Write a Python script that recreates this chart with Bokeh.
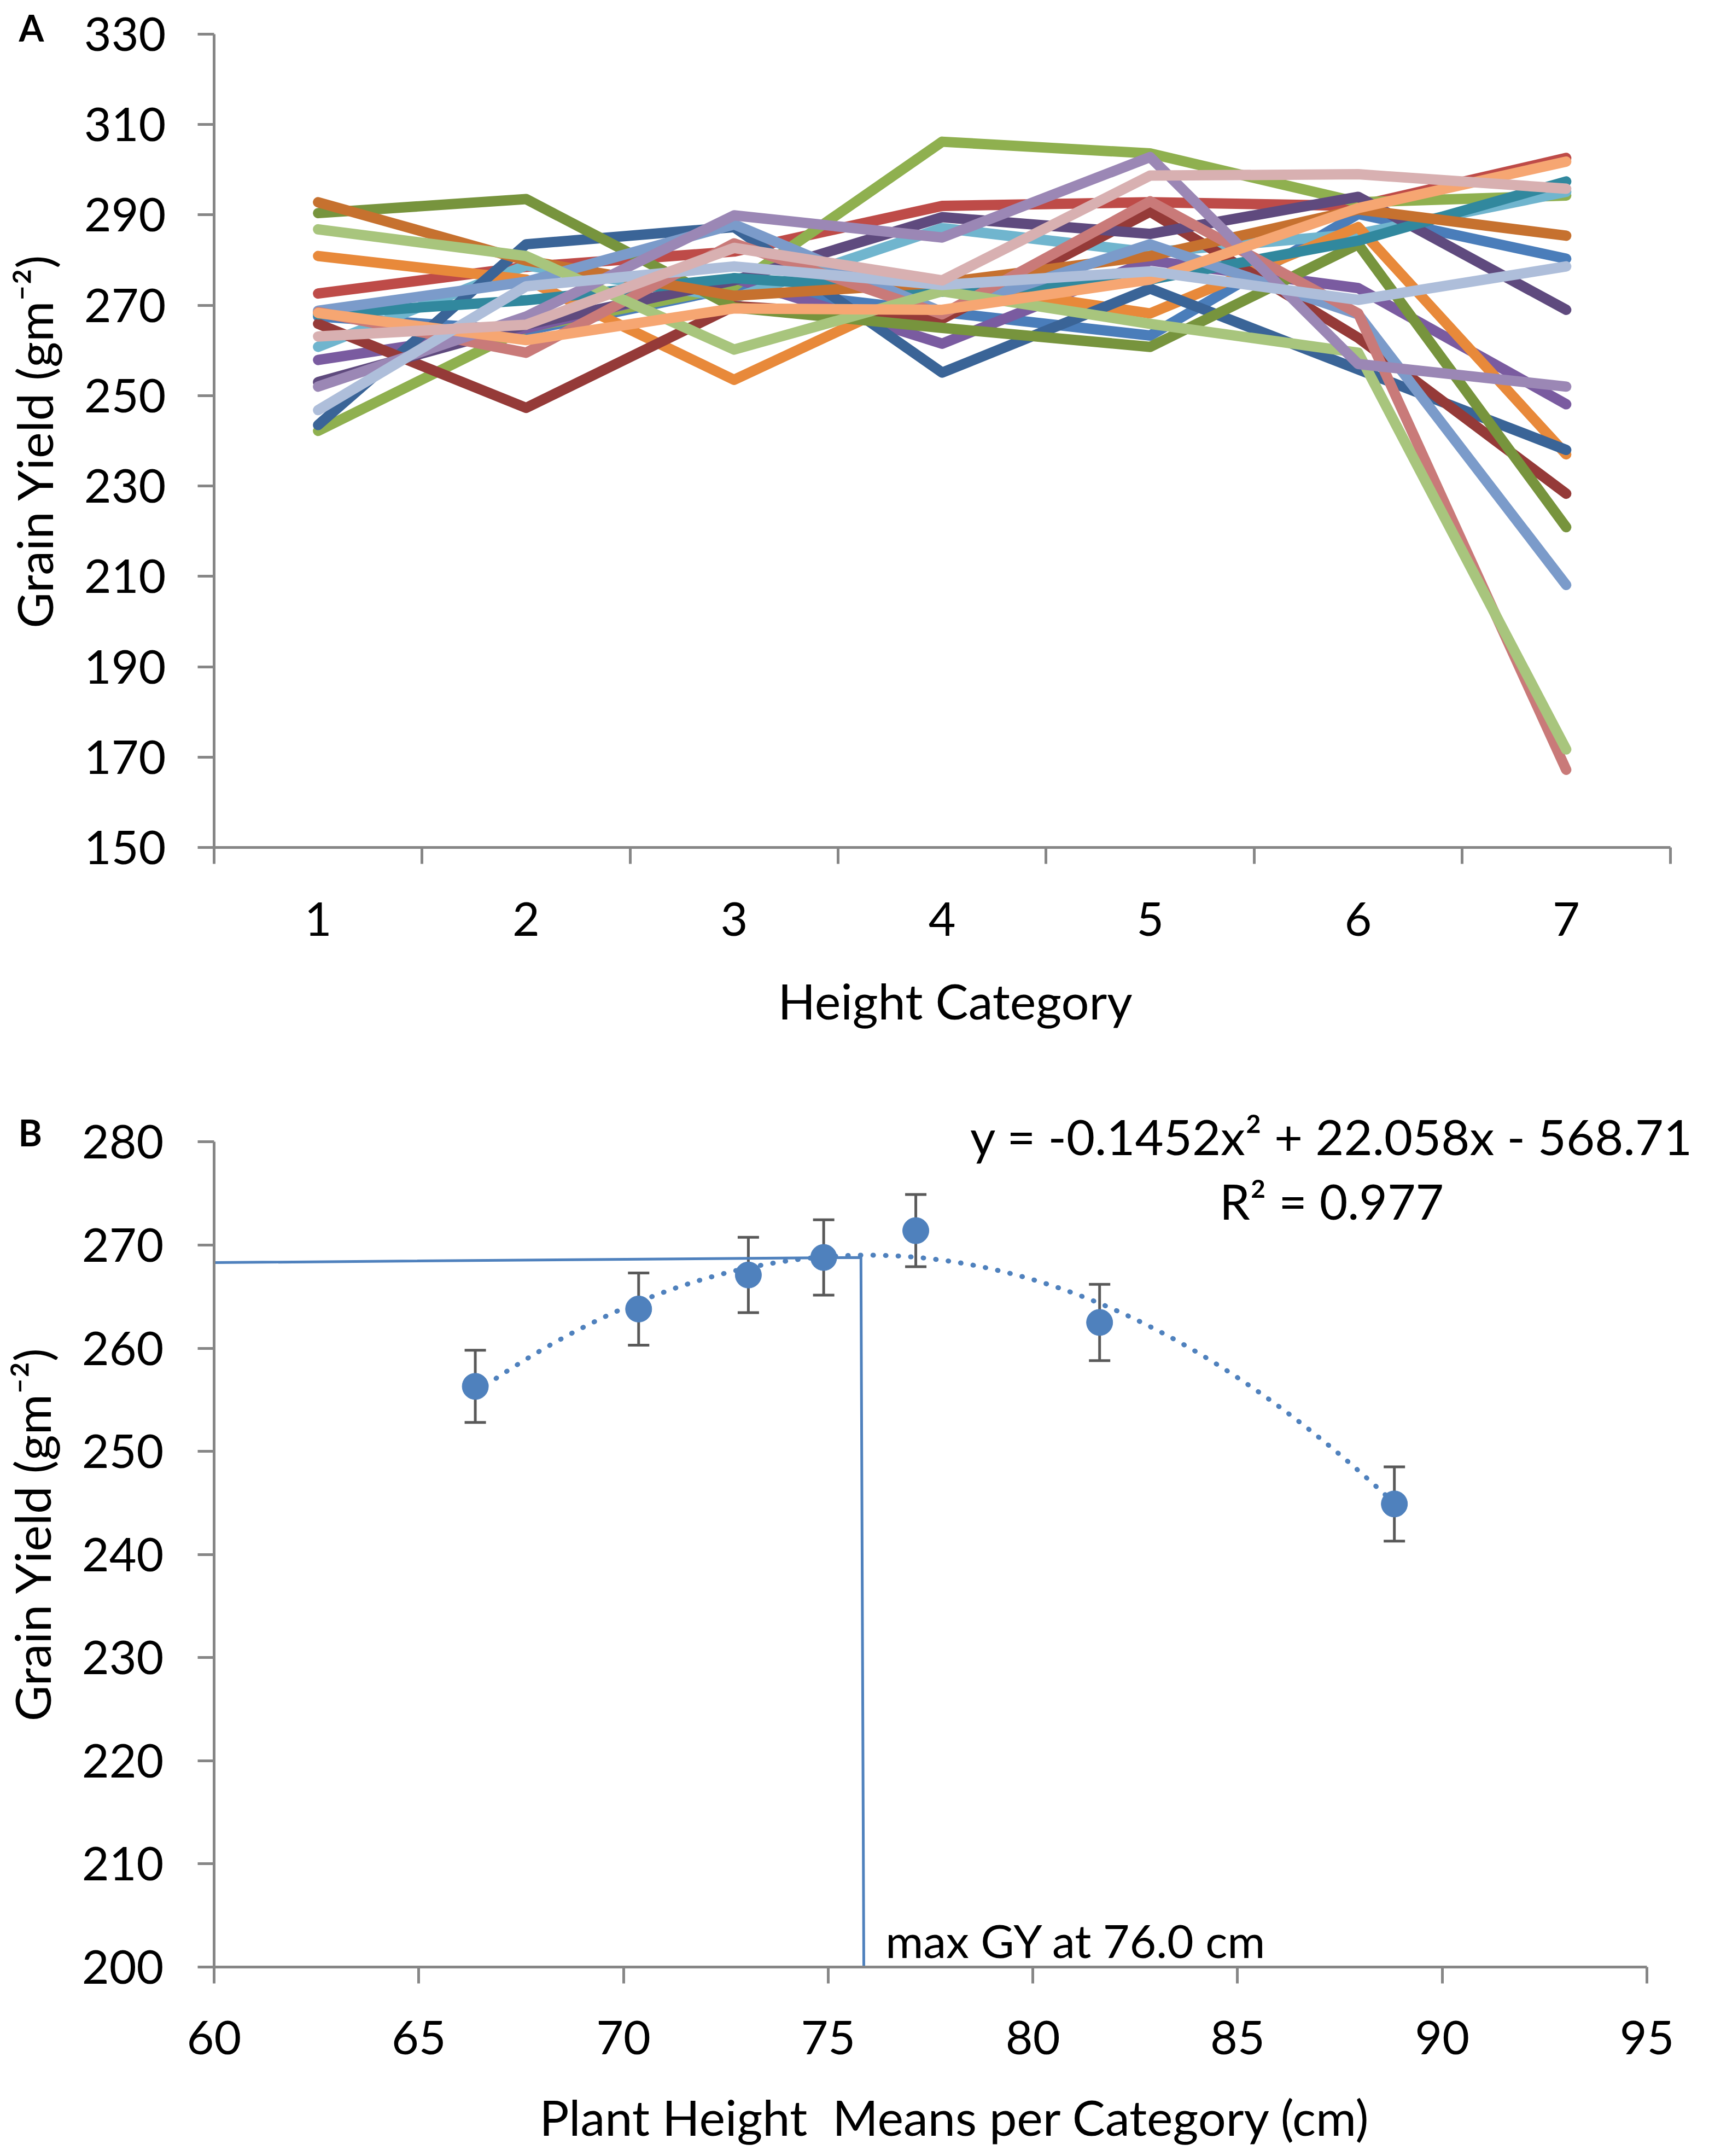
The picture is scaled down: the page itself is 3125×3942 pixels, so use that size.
from bokeh.plotting import figure
from bokeh.models import Range1d, FixedTicker, Label, Whisker, TeeHead, ColumnDataSource, Title
from bokeh.layouts import column
from bokeh.embed import file_html
from bokeh.resources import INLINE
import numpy as np

FONT = "Lato"
AXIS_COLOR = "#868686"

# ---------------- Panel A data ----------------
categories = [1, 2, 3, 4, 5, 6, 7]
s01 = [267.5, 264.4, 273.9, 268.5, 263.3, 290.2, 280.3]
s02 = [272.6, 278.5, 281.9, 292.0, 292.8, 292.0, 302.6]
s03 = [242.2, 265.0, 274.2, 306.2, 303.6, 292.8, 294.3]
s04 = [257.9, 264.9, 276.0, 261.5, 279.9, 273.8, 248.1]
s05 = [260.8, 278.8, 271.6, 287.1, 281.7, 285.8, 295.1]
s06 = [280.9, 275.7, 253.5, 275.0, 268.2, 287.3, 237.0]
s07 = [243.5, 283.5, 287.3, 255.1, 273.7, 255.8, 238.0]
s08 = [265.9, 247.3, 269.8, 267.0, 290.7, 262.8, 228.3]
s09 = [290.4, 293.5, 269.5, 265.0, 260.8, 283.5, 220.9]
s10 = [253.0, 265.7, 275.5, 289.5, 285.8, 294.0, 269.0]
s11 = [268.0, 271.1, 276.0, 273.0, 275.7, 284.3, 297.4]
s12 = [292.8, 279.9, 272.1, 275.0, 280.9, 291.2, 285.4]
s13 = [268.8, 275.2, 287.9, 268.5, 283.5, 268.0, 208.1]
s14 = [268.5, 259.5, 283.7, 268.0, 293.0, 268.2, 167.2]
s15 = [286.8, 280.9, 260.2, 273.1, 265.9, 259.5, 171.7]
s16 = [252.0, 267.5, 289.9, 285.0, 302.8, 257.0, 252.0]
s17 = [268.3, 262.3, 269.3, 269.0, 275.7, 291.5, 301.8]
s18 = [246.8, 274.2, 278.6, 274.5, 277.5, 271.2, 278.6]
s19 = [263.1, 265.7, 282.7, 275.5, 298.7, 299.0, 295.8]

series_a = [s01, s02, s03, s04, s05, s06, s07, s08, s09, s10,
            s11, s12, s13, s14, s15, s16, s17, s18, s19]
colors_a = ["#4A7DBA", "#BE4B48", "#8FB04F", "#7A5BA0", "#70B5CE", "#E8893A",
            "#3A6497", "#953A38", "#77943D", "#5F4A7E", "#31889E", "#C6712F",
            "#7B9BCA", "#C97A79", "#A8C57D", "#9B87B5", "#F6A672", "#AEBEDA",
            "#D8B0B1"]
yticks_a = [150, 170, 190, 210, 230, 250, 270, 290, 310, 330]

# ---------------- Panel B data ----------------
height_means = [66.38, 70.37, 73.05, 74.89, 77.14, 81.63, 88.83]
yield_means = [256.3, 263.8, 267.1, 268.8, 271.4, 262.5, 244.9]
yield_err = [3.5, 3.5, 3.65, 3.65, 3.5, 3.7, 3.6]
trend_coef = [-0.1452, 22.058, -568.71]
guide_x = [60.0, 75.8, 75.87]
guide_y = [268.3, 268.8, 200.0]
xticks_b = [60, 65, 70, 75, 80, 85, 90, 95]
yticks_b = [200, 210, 220, 230, 240, 250, 260, 270, 280]

FIG_W = 3109
LEFT = 390          # frame left inside figure (page x 398)
FRAME_W = 2711      # frame right at page x 3109 for both panels


def style_axes(p):
    p.grid.visible = False
    p.outline_line_color = None
    for ax in (p.xaxis[0], p.yaxis[0]):
        ax.axis_line_color = AXIS_COLOR
        ax.axis_line_width = 5
        ax.major_tick_line_color = AXIS_COLOR
        ax.major_tick_line_width = 5
        ax.major_tick_in = 0
        ax.major_tick_out = 30
        ax.minor_tick_line_color = None
        ax.major_label_text_font = FONT
        ax.major_label_text_font_size = "86px"
        ax.major_label_text_color = "#000000"
        ax.axis_label_text_font = FONT
        ax.axis_label_text_font_size = "90px"
        ax.axis_label_text_font_style = "normal"
        ax.axis_label_text_color = "#000000"


# ---------------- Figure A ----------------
xa_end = 0.5 + FRAME_W / 380.5
pa = figure(width=FIG_W, height=1942, x_range=Range1d(0.5, xa_end), y_range=Range1d(150, 330),
            title=None, output_backend="svg", toolbar_location=None,
            min_border_left=LEFT, min_border_right=FIG_W - LEFT - FRAME_W,
            min_border_top=62, min_border_bottom=393)
style_axes(pa)

for vals, col in zip(series_a, colors_a):
    pa.line(categories, vals, line_color=col, line_width=19, line_cap="round", line_join="round")

pa.xaxis.bounds = (0.5, 7.5)
pa.xaxis.ticker = FixedTicker(ticks=categories, minor_ticks=[c + 0.5 for c in [0] + categories])
pa.xaxis.major_tick_line_color = None
pa.xaxis.minor_tick_line_color = AXIS_COLOR
pa.xaxis.minor_tick_line_width = 5
pa.xaxis.minor_tick_in = 0
pa.xaxis.minor_tick_out = 30
pa.xaxis.major_label_standoff = 70
pa.xaxis.axis_label = "Height Category"
pa.xaxis.axis_label_standoff = 61
pa.yaxis.ticker = FixedTicker(ticks=yticks_a)
pa.yaxis.major_label_standoff = 58
pa.yaxis.axis_label = "Grain Yield (gm\u207b\u00b2)"
pa.yaxis.axis_label_standoff = 35

pa.add_layout(Title(text="A", align="left", offset=-357, standoff=-54,
                    text_font=FONT, text_font_size="66px", text_font_style="bold",
                    text_color="#000000"), "above")

# ---------------- Figure B ----------------
xb_end = 60 + FRAME_W / 74.886
pb = figure(width=FIG_W, height=1984, x_range=Range1d(60, xb_end), y_range=Range1d(200, 284),
            title=None, output_backend="svg", toolbar_location=None,
            min_border_left=LEFT, min_border_right=FIG_W - LEFT - FRAME_W,
            min_border_top=70, min_border_bottom=329)
style_axes(pb)
pb.xaxis.bounds = (60, 95)
pb.yaxis.bounds = (200, 280)
pb.xaxis.ticker = FixedTicker(ticks=xticks_b)
pb.yaxis.ticker = FixedTicker(ticks=yticks_b)
pb.xaxis.major_label_standoff = 68
pb.yaxis.major_label_standoff = 62
pb.xaxis.axis_label = "Plant Height\u00a0 Means per Category (cm)"
pb.xaxis.axis_label_standoff = 57
pb.yaxis.axis_label = "Grain Yield (gm\u207b\u00b2)"
pb.yaxis.axis_label_standoff = 35

# guide lines for the maximum
pb.line(guide_x, guide_y, line_color="#4F81BD", line_width=5)

# polynomial trend line from the fitted equation
tx = np.linspace(min(height_means), max(height_means), 200)
ty = np.polyval(trend_coef, tx)
pb.line(tx, ty, line_color="#4F81BD", line_width=9, line_dash="1 22", line_cap="round")

src = ColumnDataSource(dict(
    x=height_means, y=yield_means,
    upper=[m + e for m, e in zip(yield_means, yield_err)],
    lower=[m - e for m, e in zip(yield_means, yield_err)],
))
pb.add_layout(Whisker(source=src, base="x", upper="upper", lower="lower",
                      line_color="#595959", line_width=5,
                      upper_head=TeeHead(size=39, line_color="#595959", line_width=5),
                      lower_head=TeeHead(size=39, line_color="#595959", line_width=5)))
pb.scatter("x", "y", source=src, size=48, fill_color="#4F81BD", line_color="#4F81BD")

pb.add_layout(Label(x=87.3, y=280.6, text="y = -0.1452x\u00b2 + 22.058x - 568.71", text_font=FONT,
                    text_font_size="90px", text_color="#000000", text_align="center",
                    text_baseline="alphabetic"))
pb.add_layout(Label(x=87.3, y=274.3, text="R\u00b2 = 0.977", text_font=FONT,
                    text_font_size="89px", text_color="#000000", text_align="center",
                    text_baseline="alphabetic"))
pb.add_layout(Label(x=76.4, y=202.6, text="max GY at 76.0 cm", text_font=FONT,
                    text_font_size="84px", text_color="#000000", text_align="left",
                    text_baseline="alphabetic"))
pb.add_layout(Title(text="B", align="left", offset=-358, standoff=-195,
                    text_font=FONT, text_font_size="66px", text_font_style="bold",
                    text_color="#000000"), "above")

layout = column(pa, pb, spacing=0)
open("out.html", "w").write(file_html(layout, INLINE))
